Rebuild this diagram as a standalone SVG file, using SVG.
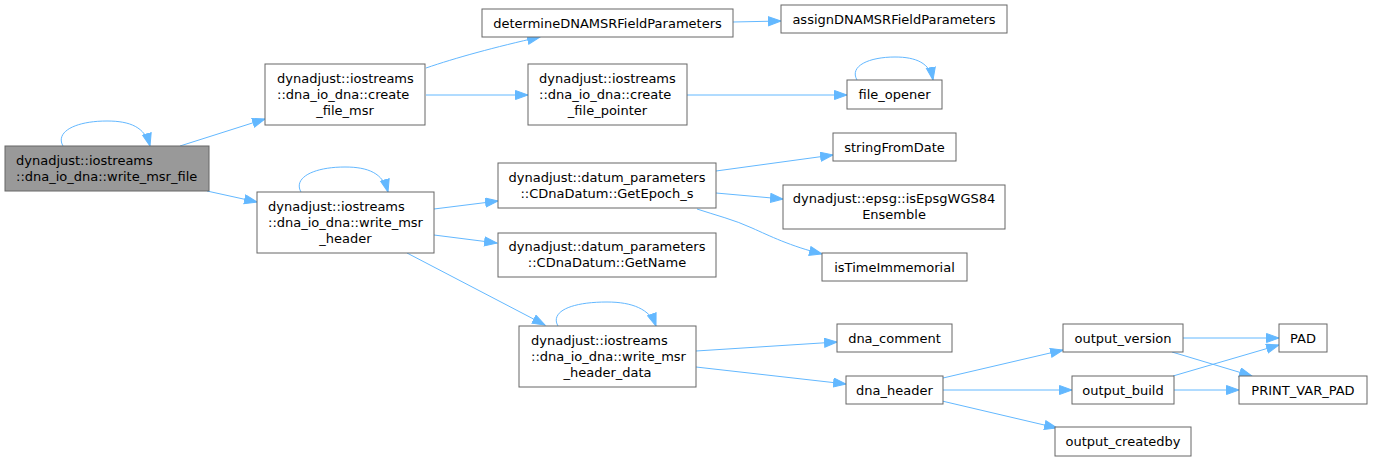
<svg xmlns="http://www.w3.org/2000/svg" width="1373" height="461" viewBox="0 0 1373 461">
<style>
.n rect{fill:#ffffff;stroke:#666666;stroke-width:1}
.root rect{fill:#999999;stroke:#666666}
text{font-family:"DejaVu Sans","Liberation Sans",sans-serif;font-size:13px;fill:#000000}
.m{text-anchor:middle}
.s{text-anchor:start}
#edges path{fill:none;stroke:#63b8ff;stroke-width:1}
</style>
<defs>
<marker id="a" markerUnits="userSpaceOnUse" markerWidth="15" markerHeight="11" refX="13" refY="5" orient="auto">
<path d="M0.5,0.5 L13,5 L0.5,9.5 z" fill="#63b8ff" stroke="#63b8ff" stroke-width="1"/>
</marker>
</defs>
<rect width="1373" height="461" fill="#ffffff"/>
<g id="edges">
<path d="M63,146 C55,132 75,121 107,121 C130,121 145,127 150,146" marker-end="url(#a)"/>
<path d="M301,192 C293,178 313,167 345,167 C368,167 383,173 388,192" marker-end="url(#a)"/>
<path d="M857,80 C849,66 869,57 895,57 C916,57 930,63 933,80" marker-end="url(#a)"/>
<path d="M558,326 C550,312 570,302 607,302 C632,302 650,309 656,326" marker-end="url(#a)"/>
<path d="M180,146 L265,119" marker-end="url(#a)"/>
<path d="M207,191 L257,202" marker-end="url(#a)"/>
<path d="M426,68 C455,58 495,47 540,37" marker-end="url(#a)"/>
<path d="M426,95 L528,95" marker-end="url(#a)"/>
<path d="M733,22 L781,21" marker-end="url(#a)"/>
<path d="M687,95 L847,95" marker-end="url(#a)"/>
<path d="M434,209 L498,201" marker-end="url(#a)"/>
<path d="M434,235 L497,243" marker-end="url(#a)"/>
<path d="M407,253 L545,325" marker-end="url(#a)"/>
<path d="M716,171 L833,155" marker-end="url(#a)"/>
<path d="M716,193 L783,199" marker-end="url(#a)"/>
<path d="M697,209 C715,215 735,220 752,228 C770,236 790,246 822,254" marker-end="url(#a)"/>
<path d="M696,351 L837,342" marker-end="url(#a)"/>
<path d="M696,367 L846,384" marker-end="url(#a)"/>
<path d="M943,378 L1063,350" marker-end="url(#a)"/>
<path d="M943,390 L1072,390" marker-end="url(#a)"/>
<path d="M942,401 L1057,428" marker-end="url(#a)"/>
<path d="M1183,338 L1279,338" marker-end="url(#a)"/>
<path d="M1172,352 L1252,376" marker-end="url(#a)"/>
<path d="M1173,376 L1279,345" marker-end="url(#a)"/>
<path d="M1174,390 L1239,390" marker-end="url(#a)"/>
</g>
<g id="write_msr_file" class="n root">
<rect x="5" y="146" width="204" height="45"/>
<text class="s" x="16" y="165">dynadjust::iostreams</text>
<text class="s" x="16" y="181">::dna_io_dna::write_msr_file</text>
</g>
<g id="create_file_msr" class="n">
<rect x="265" y="64" width="160" height="61"/>
<text class="s" x="277" y="83">dynadjust::iostreams</text>
<text class="s" x="277" y="99">::dna_io_dna::create</text>
<text class="m" x="345" y="115">_file_msr</text>
</g>
<g id="write_msr_header" class="n">
<rect x="257" y="192" width="177" height="61"/>
<text class="s" x="268" y="211">dynadjust::iostreams</text>
<text class="s" x="268" y="227">::dna_io_dna::write_msr</text>
<text class="m" x="345.5" y="243">_header</text>
</g>
<g id="determineDNAMSRFieldParameters" class="n">
<rect x="482" y="9" width="251" height="28"/>
<text class="m" x="607.5" y="27.5">determineDNAMSRFieldParameters</text>
</g>
<g id="assignDNAMSRFieldParameters" class="n">
<rect x="781" y="5" width="226" height="28"/>
<text class="m" x="894" y="23.5">assignDNAMSRFieldParameters</text>
</g>
<g id="create_file_pointer" class="n">
<rect x="528" y="64" width="159" height="61"/>
<text class="s" x="539" y="83">dynadjust::iostreams</text>
<text class="s" x="539" y="99">::dna_io_dna::create</text>
<text class="m" x="607.5" y="115">_file_pointer</text>
</g>
<g id="file_opener" class="n">
<rect x="847" y="80" width="95" height="29"/>
<text class="m" x="894.5" y="99">file_opener</text>
</g>
<g id="GetEpoch_s" class="n">
<rect x="498" y="163" width="218" height="45"/>
<text class="m" x="607" y="182">dynadjust::datum_parameters</text>
<text class="m" x="607" y="198">::CDnaDatum::GetEpoch_s</text>
</g>
<g id="GetName" class="n">
<rect x="498" y="233" width="218" height="44"/>
<text class="m" x="607" y="251">dynadjust::datum_parameters</text>
<text class="m" x="607" y="267">::CDnaDatum::GetName</text>
</g>
<g id="stringFromDate" class="n">
<rect x="833" y="133" width="123" height="28"/>
<text class="m" x="894.5" y="151.5">stringFromDate</text>
</g>
<g id="isEpsgWGS84Ensemble" class="n">
<rect x="783" y="185" width="222" height="44"/>
<text class="m" x="894" y="203">dynadjust::epsg::isEpsgWGS84</text>
<text class="m" x="894" y="219">Ensemble</text>
</g>
<g id="isTimeImmemorial" class="n">
<rect x="822" y="253" width="145" height="28"/>
<text class="m" x="894.5" y="271.5">isTimeImmemorial</text>
</g>
<g id="write_msr_header_data" class="n">
<rect x="519" y="326" width="177" height="61"/>
<text class="s" x="531" y="345">dynadjust::iostreams</text>
<text class="s" x="531" y="361">::dna_io_dna::write_msr</text>
<text class="m" x="607.5" y="377">_header_data</text>
</g>
<g id="dna_comment" class="n">
<rect x="837" y="324" width="115" height="28"/>
<text class="m" x="894.5" y="342.5">dna_comment</text>
</g>
<g id="dna_header" class="n">
<rect x="846" y="376" width="97" height="28"/>
<text class="m" x="894.5" y="394.5">dna_header</text>
</g>
<g id="output_version" class="n">
<rect x="1063" y="324" width="120" height="28"/>
<text class="m" x="1123" y="342.5">output_version</text>
</g>
<g id="output_build" class="n">
<rect x="1072" y="376" width="102" height="28"/>
<text class="m" x="1123" y="394.5">output_build</text>
</g>
<g id="output_createdby" class="n">
<rect x="1055" y="427" width="136" height="29"/>
<text class="m" x="1123" y="446">output_createdby</text>
</g>
<g id="PAD" class="n">
<rect x="1279" y="324" width="48" height="28"/>
<text class="m" x="1303" y="342.5">PAD</text>
</g>
<g id="PRINT_VAR_PAD" class="n">
<rect x="1239" y="376" width="128" height="28"/>
<text class="m" x="1303" y="394.5">PRINT_VAR_PAD</text>
</g>
</svg>
